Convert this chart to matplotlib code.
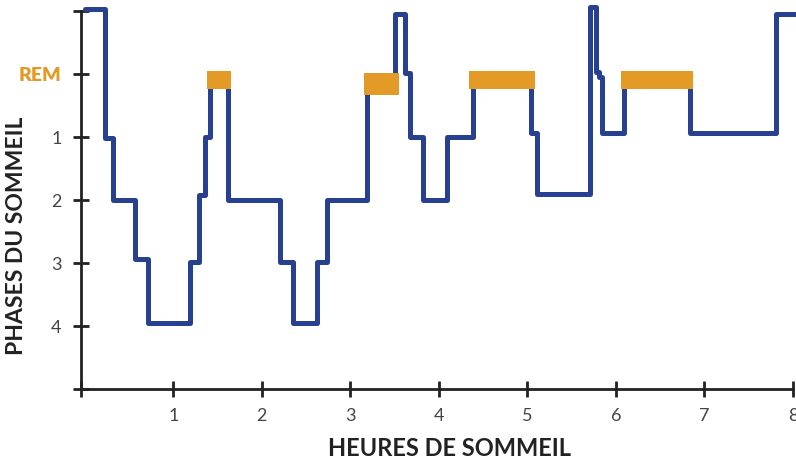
import matplotlib

matplotlib.use("Agg")
import matplotlib.pyplot as plt
from matplotlib.patches import Rectangle

# hypnogram: step start times (hours) and depth level after each step
# depth: 0 = wake, 1 = REM, 2..5 = stages 1..4
step_times = [0.00, 0.23, 0.32, 0.57, 0.71, 1.19, 1.29, 1.36, 1.41, 1.62,
              2.21, 2.35, 2.62, 2.74, 3.19, 3.50, 3.62, 3.67, 3.82, 4.09,
              4.38, 5.04, 5.11, 5.71, 5.78, 5.81, 5.84, 6.09, 6.84, 7.81]
step_levels = [-0.03, 2.02, 3.0, 3.94, 4.95, 3.98, 2.92, 2.0, 1.15, 3.0,
               3.98, 4.95, 3.98, 3.0, 1.2, 0.05, 0.98, 2.0, 3.0, 2.0,
               1.15, 1.94, 2.9, -0.06, 0.97, 1.05, 1.94, 1.15, 1.94, 0.05]
end_time = 8.04

# REM periods: start, end (hours), top, bottom (depth)
rem_start = [1.38, 3.15, 4.34, 6.06]
rem_end = [1.65, 3.55, 5.09, 6.87]
rem_top = [0.95, 0.98, 0.95, 0.95]
rem_bottom = [1.24, 1.33, 1.24, 1.24]

ytick_vals = [0, 1, 2, 3, 4, 5, 6]
ytick_labels = ["", "REM", "1", "2", "3", "4", ""]
xtick_vals = [1, 2, 3, 4, 5, 6, 7, 8]

BLUE = "#27408f"
ORANGE = "#e39a26"
INK = "#222222"

plt.rcParams["font.family"] = ["Lato", "DejaVu Sans"]

fig = plt.figure(figsize=(7.96, 4.61), dpi=100)
W, H = 796, 461
ax = fig.add_axes([81 / W, 72 / H, 712 / W, 378 / H])

# build the step path
xs, ys = [], []
for i, (t, lv) in enumerate(zip(step_times, step_levels)):
    if i > 0:
        xs.append(t)
        ys.append(step_levels[i - 1])
    xs.append(t)
    ys.append(lv)
xs.append(end_time)
ys.append(step_levels[-1])
ax.plot(xs, ys, color=BLUE, lw=3.6, solid_joinstyle="round",
        solid_capstyle="round", clip_on=False, zorder=2)

for s, e, t, b in zip(rem_start, rem_end, rem_top, rem_bottom):
    ax.add_patch(Rectangle((s, t), e - s, b - t, facecolor=ORANGE,
                           edgecolor="none", zorder=3, clip_on=False))

ax.set_xlim(-0.043, 8.0)
ax.set_ylim(6, 0)

for side in ("top", "right"):
    ax.spines[side].set_visible(False)
for side in ("left", "bottom"):
    ax.spines[side].set_linewidth(2.0)
    ax.spines[side].set_color(INK)

ax.set_xticks([ax.get_xlim()[0]] + xtick_vals)
ax.set_xticklabels([""] + [str(v) for v in xtick_vals])
ax.set_yticks(ytick_vals)
ax.set_yticklabels(ytick_labels)
ax.tick_params(axis="both", direction="inout", length=12, width=2.0,
               color=INK, labelcolor="#444444", labelsize=13)
ax.tick_params(axis="x", pad=8)
ax.tick_params(axis="y", pad=8)
rem_lab = ax.get_yticklabels()[1]
rem_lab.set_color(ORANGE)
rem_lab.set_fontweight("heavy")
rem_lab.set_fontsize(14)

fig.text(17 / W, 1 - 236 / H, "PHASES DU SOMMEIL", rotation=90,
         ha="center", va="center", fontsize=16.5, fontweight="bold", color=INK)
fig.text(450 / W, 1 - 448 / H, "HEURES DE SOMMEIL",
         ha="center", va="center", fontsize=17, fontweight="bold", color=INK)

fig.savefig("out.png", dpi=100)
